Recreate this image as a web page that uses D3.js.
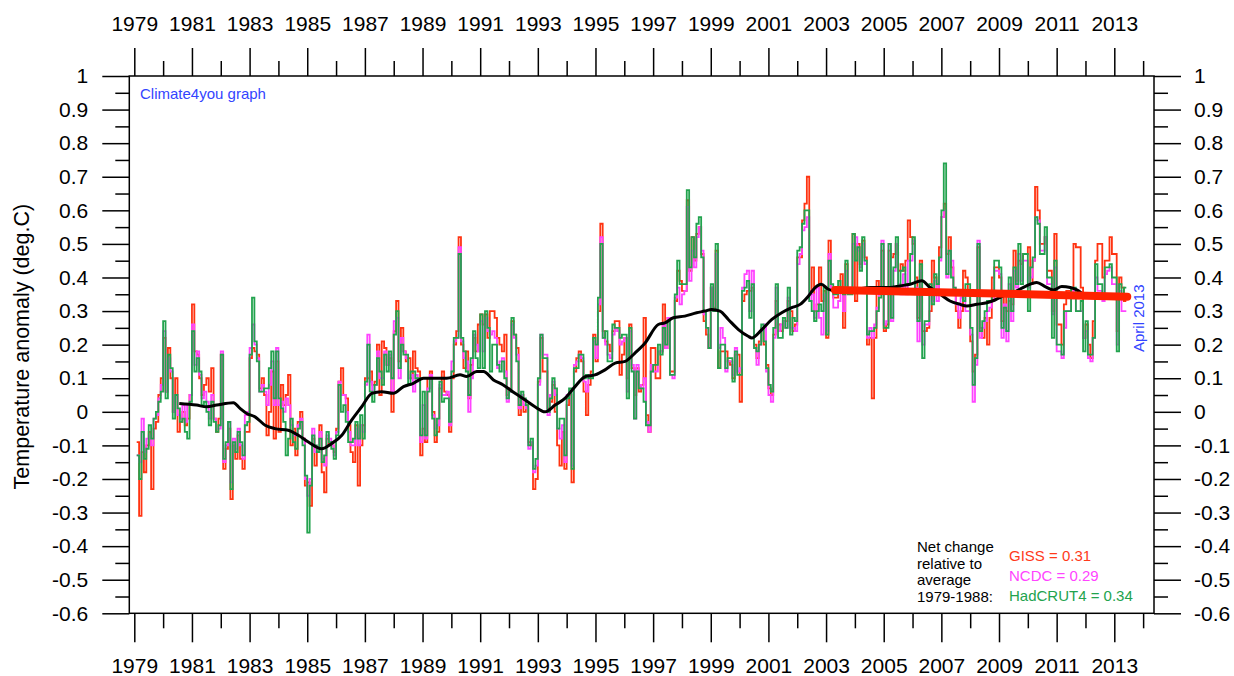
<!DOCTYPE html>
<html>
<head>
<meta charset="utf-8">
<script src="https://cdn.jsdelivr.net/npm/d3@7/dist/d3.min.js"></script>
<style>
  body { margin: 0; background: #fff; }
  svg text { font-family: "Liberation Sans", Arial, sans-serif; }
</style>
</head>
<body>
<div id="chart"></div>
<script>
// monthly anomalies, Jan 1979 .. Apr 2013 (deg C, relative to 1979-1988)
var giss = [
  -0.09,-0.31,-0.12,-0.18,-0.10,-0.06,-0.23,-0.05,-0.03,0.05,0.10,0.22,
  0.06,0.19,0.10,0.00,0.10,-0.06,-0.03,0.00,-0.04,-0.02,0.05,0.32,
  0.18,0.17,0.10,0.05,0.08,0.10,0.06,0.13,-0.02,-0.06,-0.02,0.17,
  -0.17,-0.11,-0.05,-0.26,-0.10,-0.14,-0.07,-0.14,-0.17,-0.06,-0.06,0.16,
  0.19,0.18,0.17,0.07,0.10,0.05,-0.07,0.00,0.12,-0.08,0.15,-0.06,
  0.08,0.02,0.05,0.11,-0.10,-0.05,-0.13,-0.03,0.00,-0.08,-0.22,-0.21,
  -0.28,-0.08,-0.16,-0.12,-0.04,-0.18,-0.24,-0.08,-0.10,-0.10,-0.12,-0.05,
  0.09,0.13,0.05,0.04,-0.04,-0.12,-0.15,-0.04,-0.22,-0.10,-0.04,0.10,
  0.10,0.12,0.08,0.09,0.20,0.05,0.21,0.19,0.14,0.16,0.00,0.24,
  0.33,0.15,0.25,0.18,0.15,0.16,0.10,0.18,0.13,0.12,-0.13,-0.05,
  -0.09,0.10,0.12,0.00,-0.09,-0.06,0.07,0.12,0.06,0.05,-0.06,0.10,
  0.20,0.24,0.52,0.20,0.13,0.18,0.04,0.14,0.22,0.18,0.26,0.29,
  0.26,0.29,0.22,0.30,0.30,0.28,0.22,0.20,0.18,0.23,0.05,0.07,
  0.27,0.23,0.19,-0.01,0.05,0.00,0.02,-0.09,-0.10,-0.23,-0.20,0.09,
  0.22,0.12,0.12,0.01,0.03,0.08,0.00,-0.10,-0.16,-0.06,-0.17,0.02,
  0.05,-0.21,0.12,0.16,0.18,0.15,0.06,-0.01,0.08,0.12,0.23,0.15,
  0.30,0.56,0.24,0.21,0.20,0.18,0.24,0.27,0.27,0.11,0.17,0.22,
  0.10,0.26,0.13,0.05,0.13,0.06,0.08,0.28,-0.01,-0.06,0.19,0.19,
  0.10,0.10,0.18,0.32,0.19,0.28,0.12,0.12,0.33,0.42,0.39,0.36,
  0.36,0.63,0.42,0.52,0.45,0.53,0.55,0.47,0.27,0.23,0.19,0.37,
  0.31,0.48,0.13,0.18,0.18,0.18,0.15,0.14,0.10,0.17,0.17,0.03,
  0.33,0.35,0.36,0.36,0.37,0.20,0.16,0.21,0.25,0.20,0.14,0.07,
  0.05,0.23,0.33,0.26,0.24,0.27,0.27,0.33,0.30,0.24,0.26,0.46,
  0.46,0.57,0.62,0.70,0.36,0.43,0.30,0.32,0.43,0.33,0.36,0.22,
  0.51,0.37,0.34,0.34,0.37,0.41,0.25,0.44,0.36,0.36,0.53,0.33,
  0.50,0.44,0.51,0.46,0.20,0.22,0.04,0.22,0.39,0.35,0.48,0.24,
  0.26,0.48,0.46,0.47,0.50,0.42,0.44,0.42,0.45,0.57,0.52,0.50,
  0.40,0.28,0.45,0.24,0.24,0.25,0.30,0.45,0.40,0.36,0.49,0.58,
  0.62,0.47,0.52,0.43,0.35,0.30,0.25,0.30,0.42,0.40,0.36,0.21,
  0.12,0.17,0.49,0.25,0.22,0.28,0.20,0.28,0.40,0.43,0.43,0.40,
  0.27,0.36,0.30,0.33,0.32,0.48,0.39,0.45,0.44,0.47,0.47,0.49,
  0.38,0.45,0.67,0.60,0.50,0.50,0.52,0.42,0.42,0.30,0.53,0.26,
  0.26,0.20,0.32,0.36,0.36,0.34,0.50,0.49,0.49,0.37,0.22,0.26,
  0.20,0.16,0.27,0.45,0.50,0.50,0.40,0.45,0.45,0.52,0.47,0.47,
  0.24,0.40,0.37,0.33
];

var ncdc = [
  -0.13,-0.15,-0.02,-0.12,-0.08,-0.07,-0.10,-0.02,-0.01,0.04,0.08,0.24,
  0.06,0.16,0.12,0.00,0.05,-0.01,-0.02,0.02,-0.03,0.02,0.05,0.26,
  0.14,0.18,0.11,0.04,0.06,0.03,-0.02,0.05,-0.02,-0.05,-0.05,0.18,
  -0.15,-0.10,-0.03,-0.21,-0.08,-0.11,-0.05,-0.10,-0.14,-0.01,0.00,0.19,
  0.26,0.20,0.16,0.06,0.08,0.06,0.02,0.08,0.15,0.02,0.19,0.02,
  0.03,0.00,0.04,0.02,-0.04,-0.07,-0.07,-0.04,-0.02,-0.08,-0.20,-0.25,
  -0.20,-0.05,-0.12,-0.11,-0.06,-0.14,-0.16,-0.07,-0.08,-0.10,-0.13,-0.06,
  0.09,0.05,0.05,0.00,-0.06,-0.10,-0.10,-0.05,-0.10,-0.04,-0.06,0.08,
  0.23,0.09,0.06,0.08,0.18,0.10,0.10,0.18,0.14,0.17,0.06,0.27,
  0.28,0.10,0.22,0.18,0.16,0.10,0.11,0.06,0.11,0.09,-0.09,0.02,
  -0.08,0.07,0.11,-0.01,-0.05,-0.04,0.08,0.05,0.05,0.06,-0.04,0.15,
  0.21,0.22,0.49,0.21,0.16,0.15,0.00,0.10,0.23,0.20,0.18,0.27,
  0.18,0.28,0.24,0.23,0.24,0.22,0.13,0.15,0.16,0.12,0.03,0.06,
  0.26,0.22,0.17,0.01,0.05,0.02,0.01,-0.11,-0.09,-0.18,-0.16,0.08,
  0.23,0.17,0.17,-0.01,0.05,0.09,0.05,-0.05,-0.08,-0.04,-0.15,0.05,
  0.06,-0.16,0.14,0.15,0.17,0.16,0.09,0.06,0.11,0.11,0.21,0.16,
  0.32,0.52,0.22,0.20,0.17,0.16,0.23,0.25,0.24,0.20,0.21,0.22,
  0.06,0.24,0.14,-0.02,0.14,0.08,0.07,0.10,-0.03,-0.06,0.14,0.12,
  0.12,0.18,0.18,0.26,0.19,0.28,0.11,0.10,0.34,0.37,0.32,0.35,
  0.36,0.61,0.39,0.48,0.43,0.52,0.55,0.48,0.29,0.25,0.19,0.37,
  0.30,0.47,0.19,0.25,0.22,0.12,0.15,0.15,0.11,0.19,0.12,0.13,
  0.37,0.41,0.42,0.30,0.42,0.19,0.14,0.20,0.24,0.26,0.12,0.05,
  0.03,0.22,0.37,0.24,0.26,0.27,0.25,0.34,0.25,0.25,0.24,0.44,
  0.47,0.54,0.55,0.58,0.33,0.35,0.28,0.37,0.28,0.23,0.35,0.24,
  0.47,0.37,0.31,0.31,0.33,0.36,0.30,0.42,0.37,0.37,0.50,0.52,
  0.48,0.43,0.50,0.44,0.22,0.25,0.22,0.26,0.31,0.36,0.51,0.26,
  0.27,0.50,0.27,0.42,0.50,0.38,0.35,0.41,0.35,0.45,0.45,0.51,
  0.37,0.21,0.42,0.20,0.26,0.26,0.36,0.33,0.39,0.33,0.45,0.58,
  0.60,0.40,0.48,0.45,0.37,0.32,0.28,0.34,0.35,0.30,0.30,0.23,
  0.03,0.14,0.51,0.22,0.25,0.27,0.30,0.31,0.33,0.42,0.42,0.41,
  0.22,0.32,0.21,0.38,0.27,0.42,0.37,0.47,0.39,0.45,0.45,0.37,
  0.40,0.45,0.58,0.57,0.48,0.48,0.52,0.38,0.38,0.29,0.43,0.18,
  0.18,0.16,0.25,0.30,0.30,0.35,0.36,0.30,0.30,0.30,0.22,0.24,
  0.16,0.15,0.22,0.40,0.36,0.36,0.33,0.41,0.42,0.43,0.38,0.38,
  0.20,0.36,0.30,0.30
];

var hadcrut4 = [
  -0.13,-0.20,-0.06,-0.14,-0.11,-0.04,-0.08,-0.02,0.00,0.03,0.06,0.27,
  0.04,0.17,0.13,-0.02,0.05,0.01,-0.03,-0.02,-0.06,-0.08,0.03,0.24,
  0.12,0.16,0.12,0.02,0.03,0.00,-0.04,0.03,-0.03,-0.06,-0.04,0.17,
  -0.14,-0.09,-0.03,-0.23,-0.09,-0.12,-0.06,-0.09,-0.13,-0.04,-0.03,0.17,
  0.34,0.21,0.15,0.06,0.06,0.07,0.07,0.13,0.18,0.04,0.18,0.04,
  0.01,-0.03,-0.13,-0.08,-0.02,-0.09,-0.11,-0.05,-0.03,-0.10,-0.19,-0.36,
  -0.22,-0.07,-0.10,-0.12,-0.08,-0.15,-0.13,-0.06,-0.09,-0.11,-0.14,-0.07,
  0.08,0.00,0.02,-0.03,-0.09,-0.09,-0.08,-0.03,-0.08,-0.01,-0.08,0.09,
  0.20,0.06,0.03,0.08,0.16,0.12,0.08,0.17,0.12,0.18,0.10,0.23,
  0.30,0.13,0.20,0.17,0.17,0.08,0.12,0.12,0.10,0.10,-0.07,0.06,
  -0.07,0.06,0.10,-0.02,-0.07,-0.02,0.09,0.03,0.04,0.04,-0.03,0.12,
  0.22,0.22,0.47,0.22,0.18,0.12,0.05,0.16,0.24,0.16,0.13,0.29,
  0.13,0.30,0.25,0.12,0.20,0.20,0.14,0.12,0.15,0.10,0.04,0.06,
  0.28,0.23,0.15,0.02,0.06,0.04,0.02,-0.10,-0.08,-0.17,-0.14,0.10,
  0.23,0.16,0.16,0.00,0.04,0.10,0.07,-0.05,-0.02,-0.02,-0.13,0.04,
  0.07,-0.17,0.13,0.13,0.17,0.17,0.10,0.11,0.10,0.10,0.22,0.20,
  0.34,0.50,0.22,0.24,0.15,0.15,0.26,0.25,0.25,0.22,0.23,0.23,
  0.04,0.25,0.12,-0.02,0.12,0.07,0.07,0.03,-0.04,-0.04,0.12,0.14,
  0.14,0.20,0.17,0.25,0.20,0.27,0.11,0.11,0.35,0.45,0.38,0.38,
  0.38,0.66,0.43,0.52,0.46,0.56,0.58,0.46,0.30,0.25,0.19,0.38,
  0.30,0.50,0.13,0.20,0.20,0.13,0.16,0.16,0.09,0.18,0.11,0.11,
  0.36,0.37,0.39,0.28,0.38,0.19,0.18,0.20,0.26,0.21,0.13,0.08,
  0.06,0.25,0.38,0.22,0.22,0.28,0.25,0.37,0.23,0.28,0.27,0.48,
  0.49,0.56,0.60,0.60,0.33,0.30,0.27,0.30,0.32,0.30,0.37,0.23,
  0.45,0.38,0.35,0.35,0.39,0.37,0.35,0.45,0.35,0.35,0.53,0.45,
  0.49,0.42,0.52,0.45,0.23,0.24,0.24,0.25,0.30,0.34,0.50,0.25,
  0.25,0.50,0.28,0.43,0.52,0.37,0.42,0.43,0.38,0.38,0.47,0.52,
  0.36,0.27,0.44,0.16,0.27,0.27,0.38,0.32,0.41,0.38,0.46,0.60,
  0.74,0.41,0.48,0.40,0.37,0.35,0.35,0.36,0.33,0.38,0.38,0.25,
  0.08,0.16,0.50,0.24,0.27,0.30,0.33,0.33,0.35,0.45,0.45,0.43,
  0.25,0.31,0.24,0.40,0.30,0.43,0.38,0.50,0.38,0.47,0.47,0.30,
  0.43,0.46,0.58,0.56,0.47,0.47,0.55,0.40,0.40,0.22,0.45,0.20,
  0.20,0.17,0.30,0.30,0.30,0.37,0.37,0.30,0.30,0.33,0.18,0.27,
  0.17,0.17,0.22,0.44,0.38,0.38,0.35,0.43,0.43,0.44,0.40,0.40,
  0.18,0.38,0.34,0.37
];

// 37-month running average (decimal year, value)
var meanYears = [1980.56,1981.16,1981.51,1981.86,1982.44,1982.67,1982.9,1983.19,1983.54,1983.88,
  1984.34,1984.69,1985.04,1985.5,1985.85,1986.2,1986.54,1986.89,1987.24,1987.58,
  1987.99,1988.34,1988.68,1989.03,1989.49,1989.84,1990.3,1990.53,1990.88,1991.11,
  1991.46,1991.8,1992.21,1992.56,1992.9,1993.25,1993.6,1993.94,1994.29,1994.64,
  1994.98,1995.33,1995.68,1996.03,1996.37,1996.72,1997.18,1997.41,1997.7,1998.1,
  1998.51,1998.8,1999.03,1999.32,1999.61,1999.96,2000.3,2000.42,2000.77,2001.12,
  2001.46,2001.81,2002.1,2002.39,2002.62,2002.83,2003.08,2003.31,2003.7,2004.1,
  2004.53,2005.22,2005.57,2005.92,2006.32,2006.61,2006.96,2007.3,2007.65,2007.88,
  2008.23,2008.58,2008.86,2009.21,2009.56,2009.9,2010.31,2010.6,2010.89,2011.18,
  2011.47,2011.7,2011.87];
var meanValues = [0.025,0.02,0.015,0.02,0.027,0.01,-0.005,-0.015,-0.04,-0.05,
  -0.055,-0.07,-0.09,-0.11,-0.094,-0.07,-0.025,0.015,0.055,0.06,
  0.055,0.075,0.085,0.10,0.10,0.10,0.11,0.105,0.12,0.12,
  0.095,0.08,0.055,0.035,0.015,0.0,0.02,0.04,0.075,0.105,
  0.11,0.125,0.145,0.15,0.175,0.205,0.26,0.265,0.28,0.285,
  0.295,0.30,0.305,0.30,0.275,0.245,0.225,0.22,0.245,0.275,
  0.295,0.31,0.32,0.345,0.37,0.38,0.365,0.36,0.36,0.365,
  0.37,0.37,0.375,0.38,0.39,0.37,0.35,0.33,0.32,0.315,
  0.32,0.325,0.333,0.348,0.358,0.373,0.385,0.373,0.363,0.373,
  0.37,0.363,0.353];

// linear trend since 2003 (thick red line)
var trendYears = [2003.31, 2013.45];
var trendValues = [0.363, 0.343];

// axis tick values
var yearLabels = d3.range(1979, 2014, 2);
var yearMinor = d3.range(1980, 2015, 2);
var yTickValues = [-0.6,-0.5,-0.4,-0.3,-0.2,-0.1,0,0.1,0.2,0.3,0.4,0.5,0.6,0.7,0.8,0.9,1];

var netChange = [
  {name: "GISS", value: "0.31", color: "#ff3a1a"},
  {name: "NCDC", value: "0.29", color: "#ff44ff"},
  {name: "HadCRUT4", value: "0.34", color: "#22a34e"}
];

//
// setup
//
var W = 1234, H = 676;
var box = {left: 129.3, right: 1154, top: 76, bottom: 613.3};

var x = d3.scaleLinear().domain([1979, 2013]).range([134.3, 1114.3]);
var y = d3.scaleLinear().domain([-0.6, 1]).range([box.bottom, box.top]);

var svg = d3.select("#chart").append("svg")
    .attr("width", W)
    .attr("height", H)
    .attr("viewBox", "0 0 " + W + " " + H);

var fmt = function(d){ return String(Math.round(d * 10) / 10); };

//
// axes
//
function styleAxis(g){
  g.select(".domain").remove();
  g.selectAll("line").attr("stroke", "#000").attr("stroke-width", 1.5);
  g.selectAll("text").attr("fill", "#000").style("font-size", "21px")
    .style("font-family", "'Liberation Sans', Arial, sans-serif");
}

svg.append("g")
  .attr("transform", "translate(0," + box.bottom + ")")
  .call(d3.axisBottom(x).tickValues(yearLabels).tickFormat(d3.format("d")).tickSize(29).tickPadding(16))
  .call(styleAxis);
svg.append("g")
  .attr("transform", "translate(0," + box.bottom + ")")
  .call(d3.axisBottom(x).tickValues(yearMinor).tickFormat("").tickSize(15))
  .call(styleAxis);
svg.append("g")
  .attr("transform", "translate(0," + box.top + ")")
  .call(d3.axisTop(x).tickValues(yearLabels).tickFormat(d3.format("d")).tickSize(28).tickPadding(17))
  .call(styleAxis);
svg.append("g")
  .attr("transform", "translate(0," + box.top + ")")
  .call(d3.axisTop(x).tickValues(yearMinor).tickFormat("").tickSize(15))
  .call(styleAxis);

var yMinor = yTickValues.slice(0, -1).map(function(d){ return d + 0.05; });

svg.append("g")
  .attr("transform", "translate(" + box.left + ",0)")
  .call(d3.axisLeft(y).tickValues(yTickValues).tickFormat(fmt).tickSize(27).tickPadding(14))
  .call(styleAxis);
svg.append("g")
  .attr("transform", "translate(" + box.left + ",0)")
  .call(d3.axisLeft(y).tickValues(yMinor).tickFormat("").tickSize(14))
  .call(styleAxis);
svg.append("g")
  .attr("transform", "translate(" + box.right + ",0)")
  .call(d3.axisRight(y).tickValues(yTickValues).tickFormat(fmt).tickSize(27).tickPadding(13))
  .call(styleAxis);
svg.append("g")
  .attr("transform", "translate(" + box.right + ",0)")
  .call(d3.axisRight(y).tickValues(yMinor).tickFormat("").tickSize(14))
  .call(styleAxis);

// plot frame
svg.append("rect")
  .attr("x", box.left)
  .attr("y", box.top)
  .attr("width", box.right - box.left)
  .attr("height", box.bottom - box.top)
  .attr("fill", "none")
  .attr("stroke", "#000")
  .attr("stroke-width", 1.5);

svg.append("text")
  .attr("transform", "translate(29," + ((box.top + box.bottom) / 2 + 2) + ") rotate(-90)")
  .attr("text-anchor", "middle")
  .style("font-size", "21.5px")
  .attr("fill", "#000")
  .text("Temperature anomaly (deg.C)");

//
// monthly step lines
//
function monthPoints(arr){
  var pts = arr.map(function(v, i){ return [1979 + (i + 1) / 12, v]; });
  pts.push([1979 + (arr.length + 1) / 12, arr[arr.length - 1]]);
  return pts;
}

var stepLine = d3.line()
    .x(function(d){ return x(d[0]); })
    .y(function(d){ return y(d[1]); })
    .curve(d3.curveStepAfter);

drawSeries(giss, "#ff3311");
drawSeries(ncdc, "#ff44ff");
drawSeries(hadcrut4, "#22a34e");

function drawSeries(arr, color){
  svg.append("path")
    .datum(monthPoints(arr))
    .attr("fill", "none")
    .attr("stroke", color)
    .attr("stroke-width", 1.8)
    .attr("stroke-linejoin", "miter")
    .attr("d", stepLine);
}

// running mean
var smooth = d3.line()
    .x(function(d){ return x(d[0]); })
    .y(function(d){ return y(d[1]); })
    .curve(d3.curveMonotoneX);

svg.append("path")
  .datum(d3.zip(meanYears, meanValues))
  .attr("fill", "none")
  .attr("stroke", "#000")
  .attr("stroke-width", 3)
  .attr("d", smooth);

// trend
svg.append("path")
  .datum(d3.zip(trendYears, trendValues))
  .attr("fill", "none")
  .attr("stroke", "#ff2200")
  .attr("stroke-width", 8)
  .attr("stroke-linecap", "round")
  .attr("d", d3.line().x(function(d){ return x(d[0]); }).y(function(d){ return y(d[1]); }));

//
// annotations
//
svg.append("text")
  .attr("x", 140)
  .attr("y", 99)
  .attr("fill", "#3344ff")
  .style("font-size", "15px")
  .text("Climate4you graph");

svg.append("text")
  .attr("transform", "translate(1144,352) rotate(-90)")
  .attr("fill", "#3344ff")
  .style("font-size", "15px")
  .text("April 2013");

var noteLines = ["Net change", "relative to", "average", "1979-1988:"];
svg.selectAll("text.note")
  .data(noteLines)
  .enter().append("text")
  .attr("class", "note")
  .attr("x", 917)
  .attr("y", function(d, i){ return 552 + i * 16.5; })
  .attr("fill", "#000")
  .style("font-size", "15px")
  .text(function(d){ return d; });

svg.selectAll("text.net")
  .data(netChange)
  .enter().append("text")
  .attr("class", "net")
  .attr("x", 1009)
  .attr("y", function(d, i){ return 561 + i * 20; })
  .attr("fill", function(d){ return d.color; })
  .style("font-size", "15px")
  .text(function(d){ return d.name + " = " + d.value; });
</script>
</body>
</html>
